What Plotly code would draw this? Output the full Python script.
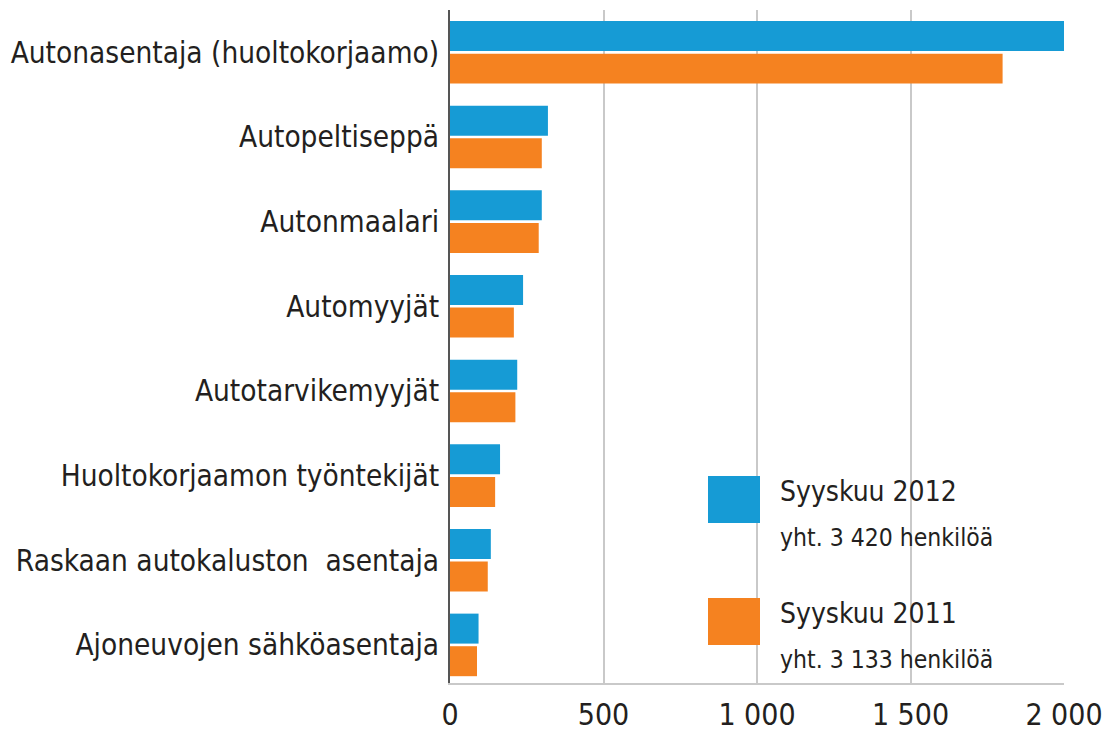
import plotly.graph_objects as go

categories = ["Autonasentaja (huoltokorjaamo)", "Autopeltiseppä", "Autonmaalari",
              "Automyyjät", "Autotarvikemyyjät", "Huoltokorjaamon työntekijät",
              "Raskaan autokaluston  asentaja", "Ajoneuvojen sähköasentaja"]
values_2012 = [2000, 319, 299, 238, 219, 163, 133, 93]
values_2011 = [1800, 299, 289, 208, 213, 147, 123, 88]
series_names = ["Syyskuu 2012", "Syyskuu 2011"]
series_totals = ["yht. 3 420 henkilöä", "yht. 3 133 henkilöä"]
tick_vals = [0, 500, 1000, 1500, 2000]
tick_text = ["0", "500", "1 000", "1 500", "2 000"]

BLUE = "#169bd5"
ORANGE = "#f58220"
TEXT = "#231f20"
FONT = "DejaVu Sans Condensed, DejaVu Sans, sans-serif"

fig = go.Figure()
fig.add_trace(go.Bar(y=categories, x=values_2012, orientation="h", name=series_names[0],
                     marker=dict(color=BLUE, line=dict(width=0))))
fig.add_trace(go.Bar(y=categories, x=values_2011, orientation="h", name=series_names[1],
                     marker=dict(color=ORANGE, line=dict(width=0))))

W, H = 1114, 731
L, R, T, B = 450, 50, 10, 48

fig.update_layout(
    width=W, height=H,
    margin=dict(l=L, r=R, t=T, b=B, autoexpand=False),
    paper_bgcolor="white", plot_bgcolor="white",
    barmode="group", bargap=0.23, bargroupgap=0.08,
    showlegend=False,
    font=dict(family=FONT, color=TEXT),
    xaxis=dict(range=[0, 2000], tickvals=tick_vals, ticktext=tick_text, automargin=False,
               showgrid=True, gridcolor="#c9c9c9", gridwidth=1.5,
               zeroline=False, showline=True, linecolor="#c9c9c9", linewidth=1.5,
               tickfont=dict(size=30, family=FONT, color=TEXT),
               ticks="outside", ticklen=4, tickcolor="rgba(0,0,0,0)"),
    yaxis=dict(range=[7.45, -0.5], showgrid=False, zeroline=False, automargin=False,
               showline=True, linecolor="#555555", linewidth=2,
               tickfont=dict(size=29.5, family=FONT, color=TEXT),
               ticks="outside", ticklen=3, tickcolor="rgba(0,0,0,0)"),
)

PW, PH = W - L - R, H - T - B

legend_rows = [(476, BLUE), (598, ORANGE)]
for i, (ytop, col) in enumerate(legend_rows):
    fig.add_shape(type="rect", xref="paper", yref="paper",
                  x0=(708 - L) / PW, x1=(760 - L) / PW,
                  y0=1 - (ytop + 47 - T) / PH, y1=1 - (ytop - T) / PH,
                  fillcolor=col, line=dict(width=0))
    fig.add_annotation(xref="paper", yref="paper",
                       x=(778 - L) / PW, y=1 - (ytop + 15 - T) / PH,
                       text=series_names[i], showarrow=False, xanchor="left", yanchor="middle",
                       font=dict(size=28, family=FONT, color=TEXT))
    fig.add_annotation(xref="paper", yref="paper",
                       x=(778 - L) / PW, y=1 - (ytop + 61 - T) / PH,
                       text=series_totals[i], showarrow=False, xanchor="left", yanchor="middle",
                       font=dict(size=24.5, family=FONT, color=TEXT))

fig.write_html("out.html", config={"displayModeBar": False},
               post_script="document.body.style.margin='0';document.body.style.overflow='hidden';")
